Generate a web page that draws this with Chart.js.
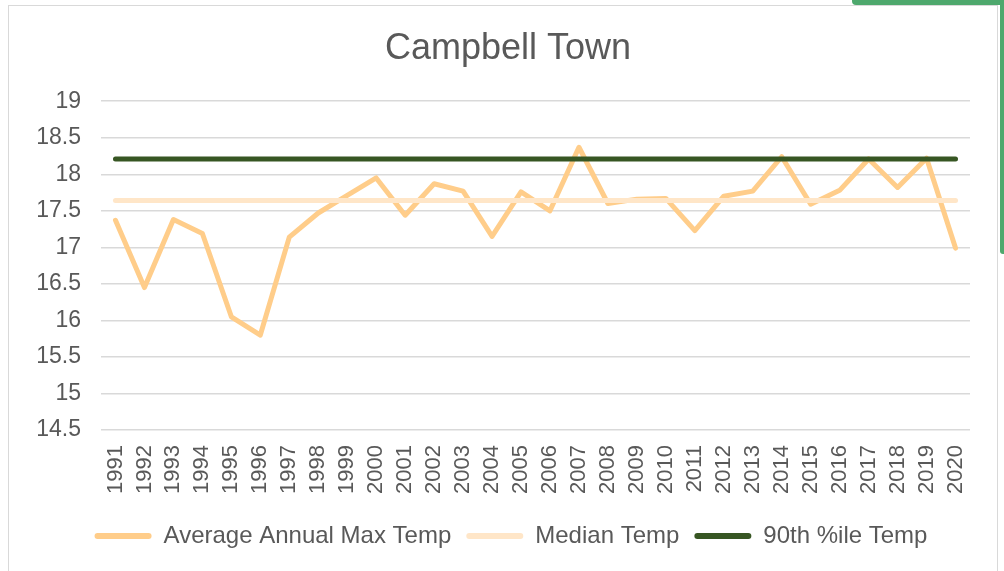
<!DOCTYPE html>
<html>
<head>
<meta charset="utf-8">
<title>Campbell Town</title>
<script src="https://cdn.jsdelivr.net/npm/chart.js@4.4.1/dist/chart.umd.min.js"></script>
<style>
  html, body { margin: 0; padding: 0; background: #fff; overflow: hidden; }
  body { width: 1004px; height: 571px; position: relative; }
  #frame {
    position: absolute; left: 8px; top: 5px; width: 990px; height: 620px;
    border: 1px solid #d9d9d9; box-sizing: border-box;
  }
  #tabTop {
    position: absolute; left: 852px; top: 0; width: 152px; height: 5px;
    background: #4ea86d; border-bottom-left-radius: 4px;
  }
  #tabSide {
    position: absolute; left: 1000px; top: 0; width: 4px; height: 254px;
    background: #4ea86d; border-bottom-left-radius: 3px;
  }
  #chart { position: absolute; left: 0; top: 0; }
</style>
</head>
<body>
<div id="tabTop"></div>
<div id="tabSide"></div>
<div id="frame"></div>
<canvas id="chart" width="1004" height="600"></canvas>
<script>
const years = [
  '1991', '1992', '1993', '1994', '1995', '1996', '1997', '1998', '1999', '2000',
  '2001', '2002', '2003', '2004', '2005', '2006', '2007', '2008', '2009', '2010',
  '2011', '2012', '2013', '2014', '2015', '2016', '2017', '2018', '2019', '2020'
];

const avgMaxTemp = [
  17.37, 16.45, 17.38, 17.19, 16.05, 15.80, 17.14, 17.47, 17.71, 17.95,
  17.44, 17.87, 17.77, 17.15, 17.76, 17.50, 18.37, 17.60, 17.66, 17.67,
  17.23, 17.70, 17.77, 18.24, 17.59, 17.78, 18.21, 17.82, 18.22, 16.99
];

const medianTemp = [
  17.64, 17.64, 17.64, 17.64, 17.64, 17.64, 17.64, 17.64, 17.64, 17.64,
  17.64, 17.64, 17.64, 17.64, 17.64, 17.64, 17.64, 17.64, 17.64, 17.64,
  17.64, 17.64, 17.64, 17.64, 17.64, 17.64, 17.64, 17.64, 17.64, 17.64
];

const p90Temp = [
  18.21, 18.21, 18.21, 18.21, 18.21, 18.21, 18.21, 18.21, 18.21, 18.21,
  18.21, 18.21, 18.21, 18.21, 18.21, 18.21, 18.21, 18.21, 18.21, 18.21,
  18.21, 18.21, 18.21, 18.21, 18.21, 18.21, 18.21, 18.21, 18.21, 18.21
];

const yMin = 14.5;
const yMax = 19;
const yStep = 0.5;

const textColor = '#595959';
const fontFamily = '"Liberation Sans", Arial, sans-serif';

const lineStyle = (color) => ({
  borderColor: color,
  backgroundColor: color,
  borderWidth: 5,
  borderCapStyle: 'round',
  borderJoinStyle: 'round',
  pointRadius: 0,
  pointHoverRadius: 0,
  tension: 0,
  fill: false
});

// the y axis eats into the left side, so nudge title + legend back to centre
const nudgeBoxes = {
  id: 'nudgeBoxes',
  afterLayout(chart) {
    chart.legend.left += 8;
    chart.legend.right += 8;
    chart.titleBlock.left += 5;
    chart.titleBlock.right += 5;
  }
};

// first dataset is painted last, so the 90th line sits on top (like the source)
const chart = new Chart(document.getElementById('chart'), {
  type: 'line',
  data: {
    labels: years,
    datasets: [
      { label: '90th %ile Temp', data: p90Temp, ...lineStyle('#375623') },
      { label: 'Median Temp', data: medianTemp, ...lineStyle('#ffe6c8') },
      { label: 'Average Annual Max Temp', data: avgMaxTemp, ...lineStyle('#ffcd8a') }
    ]
  },
  plugins: [nudgeBoxes],
  options: {
    responsive: false,
    animation: false,
    layout: {
      padding: { left: 36, right: 34, top: 0, bottom: 42 }
    },
    plugins: {
      title: {
        display: true,
        text: 'Campbell Town',
        color: textColor,
        font: { family: fontFamily, size: 36, weight: 'normal' },
        padding: { top: 27, bottom: 31 }
      },
      legend: {
        position: 'bottom',
        reverse: true,
        labels: {
          color: textColor,
          font: { family: fontFamily, size: 24 },
          boxWidth: 57,
          boxHeight: 6,
          useBorderRadius: true,
          borderRadius: 3,
          padding: 15,
          generateLabels: (c) =>
            Chart.defaults.plugins.legend.labels.generateLabels(c)
              .map(item => ({ ...item, lineWidth: 0 }))
        }
      },
      tooltip: { enabled: false }
    },
    scales: {
      x: {
        offset: true,
        grid: { display: false, drawTicks: false },
        border: { display: false },
        ticks: {
          color: textColor,
          font: { family: fontFamily, size: 22 },
          minRotation: 90,
          maxRotation: 90,
          autoSkip: false,
          padding: 15
        }
      },
      y: {
        min: yMin,
        max: yMax,
        afterFit: (scale) => { scale.width = 65; },
        grid: { color: '#d9d9d9', lineWidth: 1.5, drawTicks: false },
        border: { display: false },
        ticks: {
          stepSize: yStep,
          color: textColor,
          font: { family: fontFamily, size: 23 },
          padding: 20,
          callback: (v) => String(Number(v.toFixed(1)))
        }
      }
    }
  }
});
</script>
</body>
</html>
